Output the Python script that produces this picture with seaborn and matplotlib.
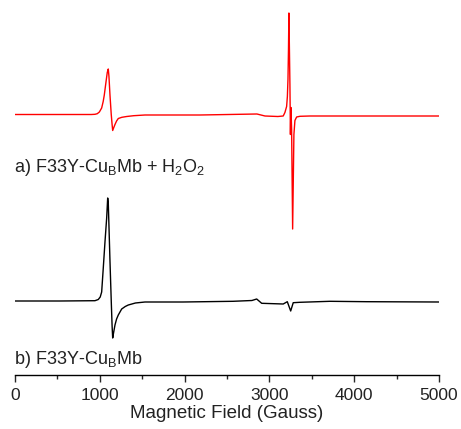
import matplotlib.pyplot as plt
import numpy as np
import pandas as pd
import seaborn as sns

# field (Gauss) and derivative intensity (arb. units)
field_a = [0, 900, 943, 970, 995, 1022, 1040, 1053, 1073, 1088, 1100, 1108,
           1120, 1135, 1145, 1152, 1165, 1179, 1198, 1218, 1260, 1317, 1400,
           1533, 2181, 2853, 2948, 3100, 3163, 3183, 3203, 3212, 3219, 3225,
           3230, 3242, 3248, 3254, 3262, 3274, 3289, 3301, 3321, 3360, 3478,
           5000]
signal_a = [0, 0, 0.2, 0.8, 2.5, 6.5, 13, 19.5, 32.5, 42, 45.5, 38,
            19.5, 0, -10, -16, -13, -10, -6.5, -4, -2.8, -2, -1.2,
            -0.5, -0.5, 0.5, -1.5, -2, -1.5, 2, 8, 18, 35, 65,
            101.5, 30, -20, 7, -15, -114.5, -20, -6, -2.5, -1.8, -1.5,
            -1.5]

field_b = [0, 530, 943, 982, 1005, 1022, 1041, 1061, 1081, 1093, 1100, 1108,
           1120, 1135, 1145, 1152, 1160, 1179, 1198, 1218, 1258, 1300, 1336,
           1420, 1533, 1981, 2570, 2794, 2850, 2909, 3163, 3211, 3251, 3281,
           3360, 3714, 4147, 5000]
signal_b = [0, 0, 0.3, 1.5, 4, 9, 33, 59, 83, 103, 98, 75,
            40, 0, -25, -37, -33, -24, -18, -14, -8, -5.5, -4,
            -2, -1, -1, -0.3, 0.5, 2, -2.3, -3, -0.7, -10, -1.7,
            -1.3, -0.3, -0.7, -1]

# vertical stacking offsets of the two traces
offset_a = 260.5
offset_b = 74

label_a = "a) F33Y-Cu$_B$Mb + H$_2$O$_2$"
label_b = "b) F33Y-Cu$_B$Mb"
xticks = [0, 1000, 2000, 3000, 4000, 5000]

sns.set_style("white")
plt.rcParams["font.family"] = ["Liberation Sans", "DejaVu Sans"]
plt.rcParams["mathtext.default"] = "regular"

df_a = pd.DataFrame({"field": field_a, "signal": np.array(signal_a) + offset_a})
df_b = pd.DataFrame({"field": field_b, "signal": np.array(signal_b) + offset_b})

fig = plt.figure(figsize=(4.61, 4.29), dpi=100)
ax = fig.add_axes([15 / 461, 1 - 375 / 429, 424 / 461, 375 / 429])

sns.lineplot(data=df_a, x="field", y="signal", color="#ff0000", lw=1.0,
             sort=False, estimator=None, ax=ax)
sns.lineplot(data=df_b, x="field", y="signal", color="black", lw=1.0,
             sort=False, estimator=None, ax=ax)

ax.text(-15, 208, label_a, fontsize=13, va="center", ha="left", color="#222222")
ax.text(-15, 15, label_b, fontsize=13, va="center", ha="left", color="#222222")

ax.set_xlim(0, 5000)
ax.set_ylim(0, 375)
ax.set_xticks(xticks)
ax.set_xticks([500, 1500, 2500, 3500, 4500], minor=True)
ax.set_yticks([])
ax.tick_params(axis="x", which="major", direction="out", length=5, width=1,
               labelsize=12.5, bottom=True, pad=4, labelcolor="#222222")
ax.tick_params(axis="x", which="minor", direction="out", length=3, width=1,
               bottom=True)
ax.set_xlabel("Magnetic Field (Gauss)", fontsize=13.5, labelpad=2,
              color="#222222")
ax.set_ylabel("")

for side in ["left", "top", "right"]:
    ax.spines[side].set_visible(False)
ax.spines["bottom"].set_linewidth(1)
ax.spines["bottom"].set_color("black")
ax.patch.set_alpha(0)

fig.savefig("out.png", dpi=100)
